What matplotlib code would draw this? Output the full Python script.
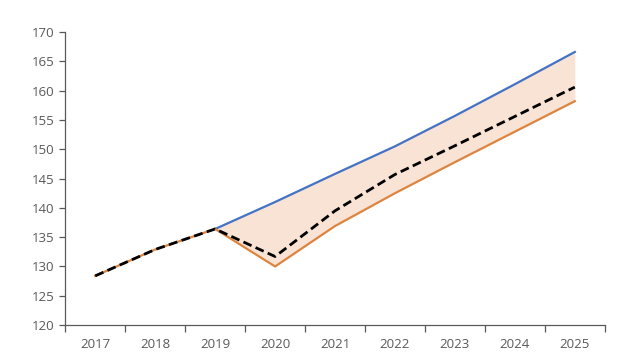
import numpy as np
import matplotlib.pyplot as plt

years = ['2017', '2018', '2019', '2020', '2021', '2022', '2023', '2024', '2025']
# upper scenario (blue), starts in 2019
upper = [None, None, 136.4, 141.0, 145.8, 150.5, 155.7, 161.1, 166.6]
# lower scenario (orange)
lower = [128.4, 132.9, 136.4, 130.0, 136.9, 142.5, 147.8, 153.0, 158.2]
# central (dashed black)
central = [128.4, 132.9, 136.4, 131.7, 139.5, 145.7, 150.6, 155.6, 160.6]

plt.rcParams['font.family'] = ['Open Sans', 'DejaVu Sans']
grey = '#595959'

fig = plt.figure(figsize=(6.4, 3.6), dpi=100)
ax = fig.add_axes([0.102, 0.097, 0.843, 0.814])

x = np.arange(len(years))
up = np.array([np.nan if v is None else v for v in upper], dtype=float)
lo = np.array(lower, dtype=float)
mask = ~np.isnan(up)

ax.fill_between(x[mask], lo[mask], up[mask], color='#F8E3D5', linewidth=0, zorder=1)
ax.plot(x[mask], up[mask], color='#4472C4', lw=1.6, zorder=2)
ax.plot(x, lo, color='#DD8440', lw=1.6, zorder=2)
ax.plot(x, central, color='black', lw=2.0, ls=(0, (3.2, 1.6)), zorder=3)

ax.set_xlim(-0.5, len(years) - 0.5)
ax.set_ylim(120, 170)
ax.set_yticks(np.arange(120, 171, 5))
ax.set_xticks(x)
ax.set_xticklabels(years)
ax.set_xticks(np.arange(-0.5, len(years)), minor=True)
ax.tick_params(axis='x', which='major', length=0, pad=9, labelsize=9.5, colors=grey)
ax.tick_params(axis='x', which='minor', length=5, color=grey, width=0.9)
ax.tick_params(axis='y', length=4, color=grey, width=0.9, labelsize=9.5, labelcolor=grey, pad=4)

for s in ['top', 'right']:
    ax.spines[s].set_visible(False)
for s in ['left', 'bottom']:
    ax.spines[s].set_color(grey)
    ax.spines[s].set_linewidth(0.9)

fig.savefig('out.png', dpi=100)
